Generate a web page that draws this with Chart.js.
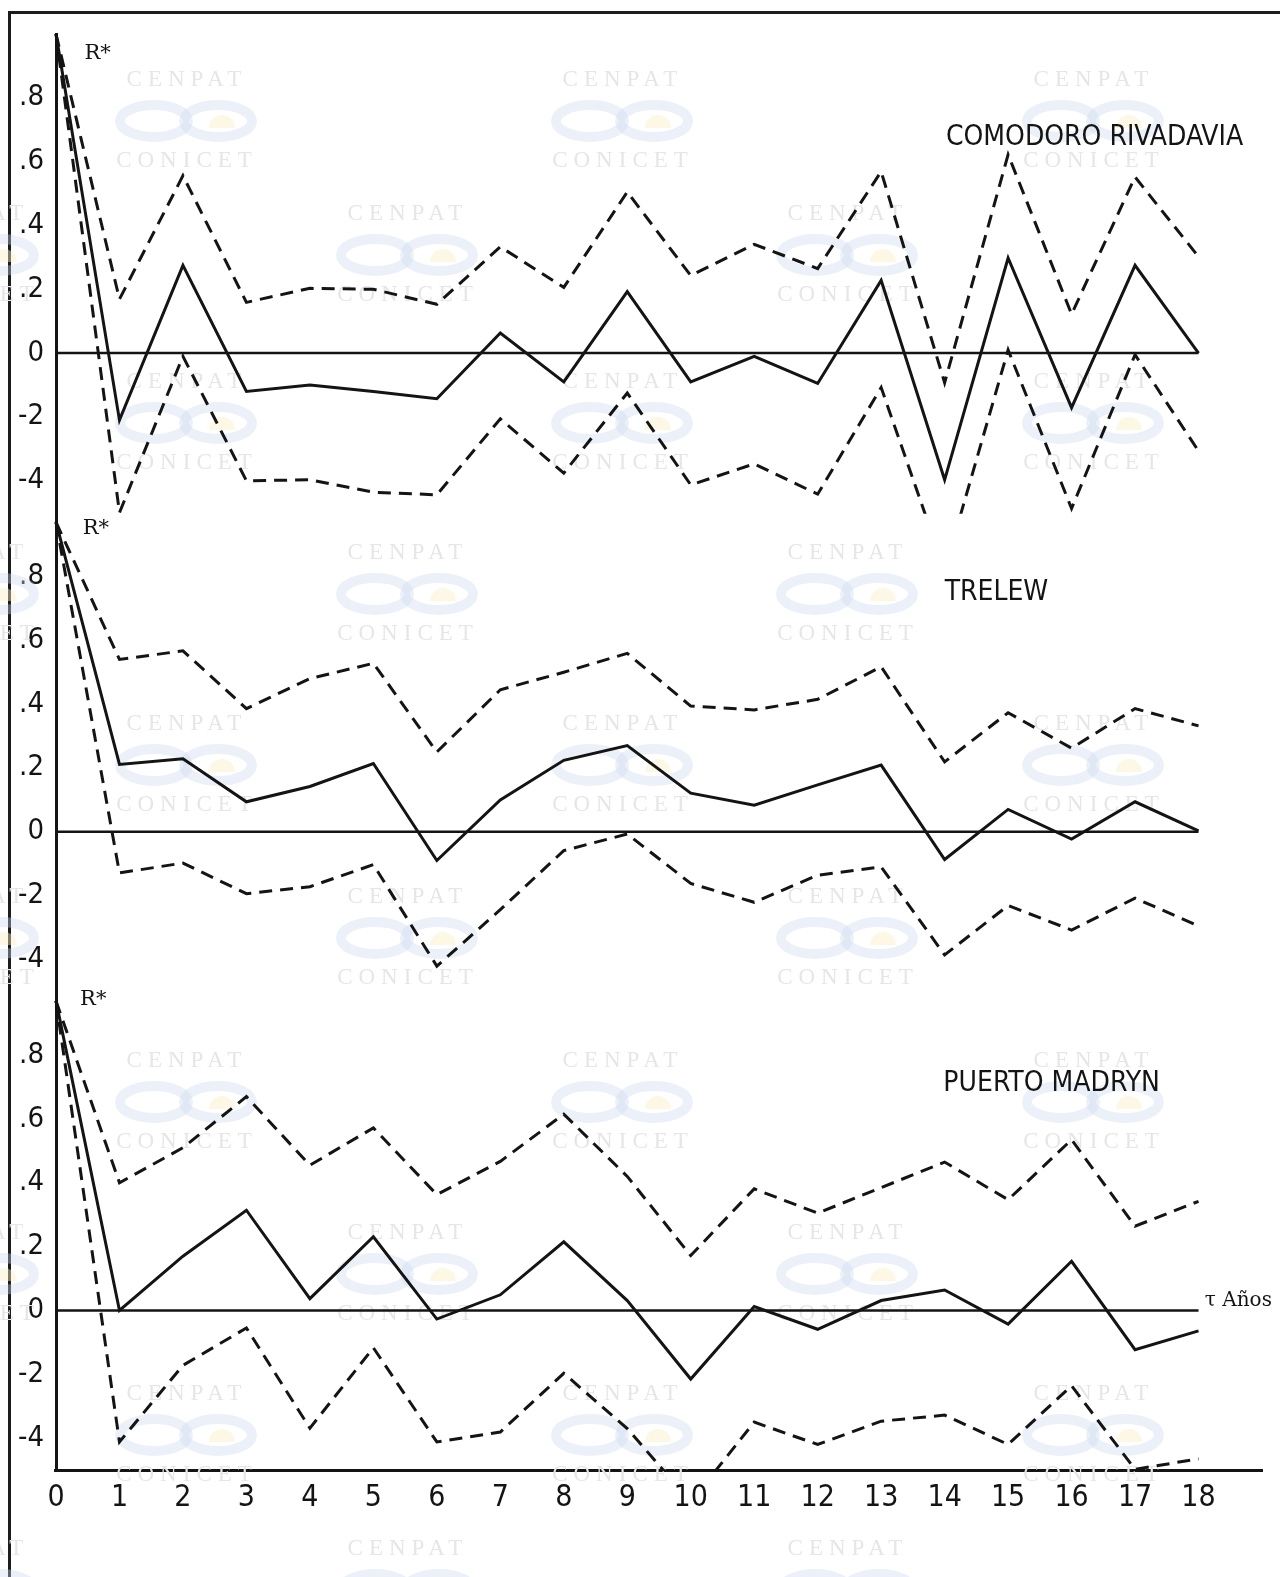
<!DOCTYPE html>
<html>
<head>
<meta charset="utf-8">
<script src="https://cdn.jsdelivr.net/npm/chart.js@4.4.1/dist/chart.umd.min.js"></script>
<style>
  html, body { margin: 0; padding: 0; background: #fff; }
  #wrap { position: relative; width: 1280px; height: 1577px; overflow: hidden; }
  #frame { position: absolute; left: 8px; top: 11px; right: -4px; bottom: -4px;
           border-top: 3px solid #1c1c1c; border-left: 3px solid #1c1c1c; }
  canvas { position: absolute; left: 0; top: 0; }
</style>
</head>
<body>
<div id="wrap">
  <div id="frame"></div>
  <canvas id="chart" width="1280" height="1577"></canvas>
</div>
<script>
// lags (años)
const lags = [0, 1, 2, 3, 4, 5, 6, 7, 8, 9, 10, 11, 12, 13, 14, 15, 16, 17, 18]
const xTicks = lags
const yTicks = [0.8, 0.6, 0.4, 0.2, 0, -0.2, -0.4]
const yTickLabels = [".8", ".6", ".4", ".2", "0", "-2", "-4"]

// Comodoro Rivadavia
const comodoroR = [1.0, -0.21, 0.275, -0.12, -0.10, -0.12, -0.143, 0.063, -0.09, 0.193, -0.09, -0.01, -0.095, 0.228, -0.397, 0.298, -0.171, 0.275, 0.0]
const comodoroUp = [1.0, 0.169, 0.556, 0.159, 0.203, 0.20, 0.153, 0.333, 0.206, 0.505, 0.243, 0.341, 0.265, 0.569, -0.093, 0.622, 0.122, 0.552, 0.302]
const comodoroLo = [1.0, -0.5, -0.01, -0.40, -0.397, -0.436, -0.444, -0.206, -0.376, -0.125, -0.413, -0.347, -0.442, -0.108, -0.68, 0.01, -0.487, -0.005, -0.307]

// Trelew
const trelewR = [0.97, 0.211, 0.229, 0.094, 0.142, 0.214, -0.09, 0.10, 0.224, 0.27, 0.121, 0.083, 0.147, 0.209, -0.087, 0.07, -0.023, 0.094, 0.003]
const trelewUp = [0.97, 0.54, 0.567, 0.386, 0.48, 0.528, 0.25, 0.445, 0.50, 0.559, 0.394, 0.382, 0.415, 0.517, 0.219, 0.373, 0.262, 0.386, 0.332]
const trelewLo = [0.97, -0.129, -0.098, -0.194, -0.172, -0.103, -0.421, -0.244, -0.059, -0.007, -0.162, -0.221, -0.136, -0.11, -0.386, -0.231, -0.308, -0.208, -0.295]

// Puerto Madryn
const madrynR = [0.97, 0.0, 0.17, 0.314, 0.037, 0.231, -0.027, 0.049, 0.215, 0.031, -0.215, 0.012, -0.059, 0.031, 0.064, -0.043, 0.154, -0.123, -0.064]
const madrynUp = [0.97, 0.40, 0.51, 0.67, 0.455, 0.572, 0.363, 0.467, 0.615, 0.42, 0.172, 0.381, 0.305, 0.385, 0.465, 0.347, 0.535, 0.264, 0.342]
const madrynLo = [0.97, -0.412, -0.172, -0.055, -0.369, -0.117, -0.412, -0.381, -0.197, -0.37, -0.60, -0.35, -0.42, -0.347, -0.328, -0.42, -0.236, -0.498, -0.465]

const zeroLine = lags.map(() => 0)

const ink = "#141414"
const tickFont = "'DejaVu Sans Condensed', 'DejaVu Sans', sans-serif"

const panels = [
  { axis: "y1", name: "COMODORO RIVADAVIA", r: comodoroR, up: comodoroUp, lo: comodoroLo },
  { axis: "y2", name: "TRELEW", r: trelewR, up: trelewUp, lo: trelewLo },
  { axis: "y3", name: "PUERTO MADRYN", r: madrynR, up: madrynUp, lo: madrynLo }
]

const pts = arr => lags.map((l, i) => ({ x: l, y: arr[i] }))

const datasets = []
panels.forEach(p => {
  datasets.push({ label: p.name + " 0", data: pts(zeroLine), yAxisID: p.axis, borderWidth: 2.5 })
  datasets.push({ label: p.name, data: pts(p.r), yAxisID: p.axis, borderWidth: 3 })
  datasets.push({ label: p.name + " +", data: pts(p.up), yAxisID: p.axis, borderWidth: 3, borderDash: [13, 8] })
  datasets.push({ label: p.name + " -", data: pts(p.lo), yAxisID: p.axis, borderWidth: 3, borderDash: [13, 8] })
})
datasets.forEach(d => {
  d.borderColor = ink
  d.pointRadius = 0
  d.tension = 0
  d.fill = false
  d.clip = false
})

function panelAxis(order) {
  return {
    type: "linear",
    position: "left",
    stack: "panels",
    stackWeight: 1,
    weight: order,
    min: -0.5,
    max: 1.0,
    grid: { display: false, drawTicks: false },
    border: { display: true, color: ink, width: 3 },
    afterBuildTicks: s => { s.ticks = yTicks.map(v => ({ value: v })) },
    ticks: {
      padding: 12,
      color: ink,
      font: { family: tickFont, size: 29 },
      callback: (v, i) => yTickLabels[i]
    },
    afterFit: s => { s.width = 41 }
  }
}

// keep each station's lines inside its own panel
const panelClip = {
  id: "panelClip",
  beforeDatasetDraw(chart, args) {
    const ys = chart.scales[args.meta.yAxisID]
    const { ctx, chartArea } = chart
    ctx.save()
    ctx.beginPath()
    ctx.rect(chartArea.left - 6, ys.top - 4, chartArea.width + 12, ys.bottom - ys.top + 5)
    ctx.clip()
  },
  afterDatasetDraw(chart) {
    chart.ctx.restore()
  }
}

// faint CENPAT / CONICET stamps of the scan
const stamps = {
  id: "stamps",
  beforeDatasetsDraw(chart) {
    const ctx = chart.ctx
    const spots = []
    ;[184, 620, 1091].forEach(x => [80, 382, 724, 1061, 1394].forEach(y => spots.push([x, y])))
    ;[-34, 405, 845].forEach(x => [214, 553, 897, 1233, 1549].forEach(y => spots.push([x, y])))
    ctx.save()
    ctx.textAlign = "center"
    ctx.textBaseline = "middle"
    ctx.font = "23px 'Liberation Serif', serif"
    ctx.letterSpacing = "6px"
    spots.forEach(([x, y]) => {
      ctx.fillStyle = "#e6e6e6"
      ctx.fillText("CENPAT", x + 3, y)
      ctx.fillText("CONICET", x + 3, y + 81)
      ctx.strokeStyle = "rgba(205, 219, 239, 0.38)"
      ctx.lineWidth = 10
      ctx.beginPath()
      ctx.ellipse(x - 30, y + 41, 34, 16, 0, 0, Math.PI * 2)
      ctx.stroke()
      ctx.beginPath()
      ctx.ellipse(x + 34, y + 41, 34, 16, 0, 0, Math.PI * 2)
      ctx.stroke()
      ctx.fillStyle = "rgba(250, 238, 200, 0.45)"
      ctx.beginPath()
      ctx.arc(x + 38, y + 48, 13, Math.PI, Math.PI * 2)
      ctx.fill()
    })
    ctx.restore()
  }
}

const notes = {
  id: "notes",
  afterDatasetsDraw(chart) {
    const { ctx, scales } = chart
    const x = scales.x
    ctx.save()
    ctx.fillStyle = ink
    ctx.textBaseline = "middle"
    ctx.textAlign = "left"
    const nameAt = [[14.02, 0.675], [14.0, 0.75], [13.98, 0.71]]
    const rAt = [[0.45, 0.94], [0.42, 0.95], [0.38, 0.975]]
    panels.forEach((p, i) => {
      const y = scales[p.axis]
      ctx.font = "28px " + tickFont
      ctx.fillText(p.name, x.getPixelForValue(nameAt[i][0]), y.getPixelForValue(nameAt[i][1]))
      ctx.font = "21px 'DejaVu Serif', serif"
      ctx.fillText("R*", x.getPixelForValue(rAt[i][0]), y.getPixelForValue(rAt[i][1]))
    })
    ctx.font = "20px 'DejaVu Serif', serif"
    ctx.fillText("τ Años", x.getPixelForValue(18.1), scales.y3.getPixelForValue(0.03))
    ctx.restore()
  }
}

new Chart(document.getElementById("chart"), {
  type: "line",
  data: { datasets },
  options: {
    responsive: false,
    animation: false,
    events: [],
    layout: { padding: { left: 15, right: 18, top: 34, bottom: 0 } },
    plugins: {
      legend: { display: false },
      tooltip: { enabled: false }
    },
    scales: {
      x: {
        type: "linear",
        min: 0,
        max: 19,
        grid: { display: false, drawTicks: false },
        border: { display: true, color: ink, width: 3 },
        afterBuildTicks: s => { s.ticks = xTicks.map(v => ({ value: v })) },
        ticks: {
          padding: 10,
          color: ink,
          autoSkip: false,
          maxRotation: 0,
          font: { family: tickFont, size: 30 }
        },
        afterFit: s => { s.height = 107 }
      },
      y1: panelAxis(3),
      y2: panelAxis(2),
      y3: panelAxis(1)
    }
  },
  plugins: [panelClip, stamps, notes]
})
</script>
</body>
</html>
